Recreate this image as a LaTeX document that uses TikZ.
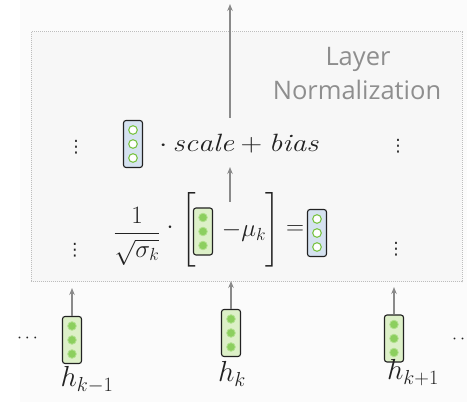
\RequirePackage{fix-cm}
\documentclass[tikz,border=0pt]{standalone}
\usepackage{amsmath}
\usepackage{fontspec}
\newfontfamily\lnfont{Open Sans}
\newfontfamily\dvfont{DejaVu Sans}
\usetikzlibrary{arrows.meta}
\definecolor{vgreen}{HTML}{DDF0C8}
\definecolor{vblue}{HTML}{D5E2F0}
\definecolor{cgreen}{HTML}{8CCF5E}
\definecolor{cgreenb}{HTML}{B2E08F}
\definecolor{cring}{HTML}{7CC448}
\definecolor{arrgray}{HTML}{8A8A8A}
\definecolor{boxline}{HTML}{BDBDBD}
\definecolor{boxfill}{HTML}{F7F7F7}
\definecolor{panel}{HTML}{FBFBFB}
\definecolor{lntext}{HTML}{8E8E8E}
\definecolor{ink}{HTML}{222222}
\tikzset{
  vecbox/.style={draw=ink, line width=1.1pt, rounded corners=2.5pt, minimum width=19pt, minimum height=47pt, inner sep=0pt},
  gvec/.style={vecbox, fill=vgreen},
  bvec/.style={vecbox, fill=vblue},
  gcirc/.style={fill=cgreen, draw=cgreenb, line width=0.8pt},
  wcirc/.style={fill=white, draw=cring, line width=1.1pt},
  arr/.style={draw=arrgray, line width=1.2pt, -{Stealth[length=7pt,width=5.5pt]}},
  lnbox/.style={draw=boxline, fill=boxfill, densely dotted, line width=1pt},
  mth/.style={inner sep=0pt, text=ink, font=\fontsize{25}{29}\selectfont},
  lbl/.style={inner sep=0pt, text=ink, font=\fontsize{29}{33}\selectfont, anchor=base},
  vd/.style={inner sep=0pt, text=ink, font=\dvfont\fontsize{17}{20}\selectfont},
  ell/.style={inner sep=0pt, text=ink, font=\fontsize{18}{20}\selectfont},
  lntxt/.style={inner sep=0pt, text=lntext, font=\lnfont\fontsize{25.5}{28}\selectfont, anchor=base}
}
\newcommand\circsin[2]{\foreach \o in {-14,0,14}{\draw[#2] ([yshift=\o pt]#1.center) circle (4.3pt);}}
\begin{document}
\begin{tikzpicture}[x=1pt, y=-1pt]
\useasboundingbox (0,0) rectangle (467,417);
\fill[panel] (20,0) rectangle (467,402);
% layer normalization box
\draw[lnbox] (31,32) rectangle (462,282);
\node[lntxt] (lay) at (358,66) {Layer};
\node[lntxt] (norm) at (357,100) {Normalization};
% dots
\node[vd] (d1) at (76,147) {⋮};
\node[vd] (d2) at (398,146) {⋮};
\node[vd] (d3) at (75,250) {⋮};
\node[vd] (d4) at (396,249) {⋮};
% top row
\node[bvec] (top) at (133,144) {};
\circsin{top}{wcirc}
\node[mth, anchor=base west] (sb) at (159,152) {\scalebox{1.2}[1]{$\cdot\, \mathit{scale} + \mathit{bias}$}};
% formula row
\node[mth] (frac) at (137,236) {$\dfrac{1}{\sqrt{\sigma_k}}$};
\node[mth] (cdot) at (170,228) {$\cdot$};
\node[mth] (lb) at (189,230) {$\left[\vrule height 27pt depth 27pt width 0pt\right.$};
\node[gvec] (xk) at (203,231.5) {};
\circsin{xk}{gcirc}
\node[mth, anchor=base] (mu) at (244,237) {$-\mu_k$};
\node[mth] (rb) at (272,230) {$\left.\vrule height 27pt depth 27pt width 0pt\right]$};
\node[mth] (eq) at (295,230) {$=$};
\node[bvec] (yk) at (317,233) {};
\circsin{yk}{wcirc}
% inputs
\node[gvec] (h1) at (72,340) {};
\circsin{h1}{gcirc}
\node[gvec] (h2) at (231,333) {};
\circsin{h2}{gcirc}
\node[gvec] (h3) at (394,338.5) {};
\circsin{h3}{gcirc}
\node[lbl] (l1) at (87,387) {$h_{k-1}$};
\node[lbl] (l2) at (232,382) {$h_k$};
\node[lbl] (l3) at (413,380) {$h_{k+1}$};
\node[ell] (e1) at (29,339) {$\cdots$};
\node[ell, anchor=west] (e2) at (452,340) {$\cdots$};
% arrows
\coordinate (t1) at (72,288);
\coordinate (t2) at (231,281);
\coordinate (t3) at (394,287);
\draw[arr] (h1.north) -- (t1);
\draw[arr] (h2.north) -- (t2);
\draw[arr] (h3.north) -- (t3);
\coordinate (ms) at (230,202);
\coordinate (me) at (230,167);
\draw[arr] (ms) -- (me);
\coordinate (os) at (230,118);
\coordinate (oe) at (230,4);
\draw[arr] (os) -- (oe);
\end{tikzpicture}
\end{document}
